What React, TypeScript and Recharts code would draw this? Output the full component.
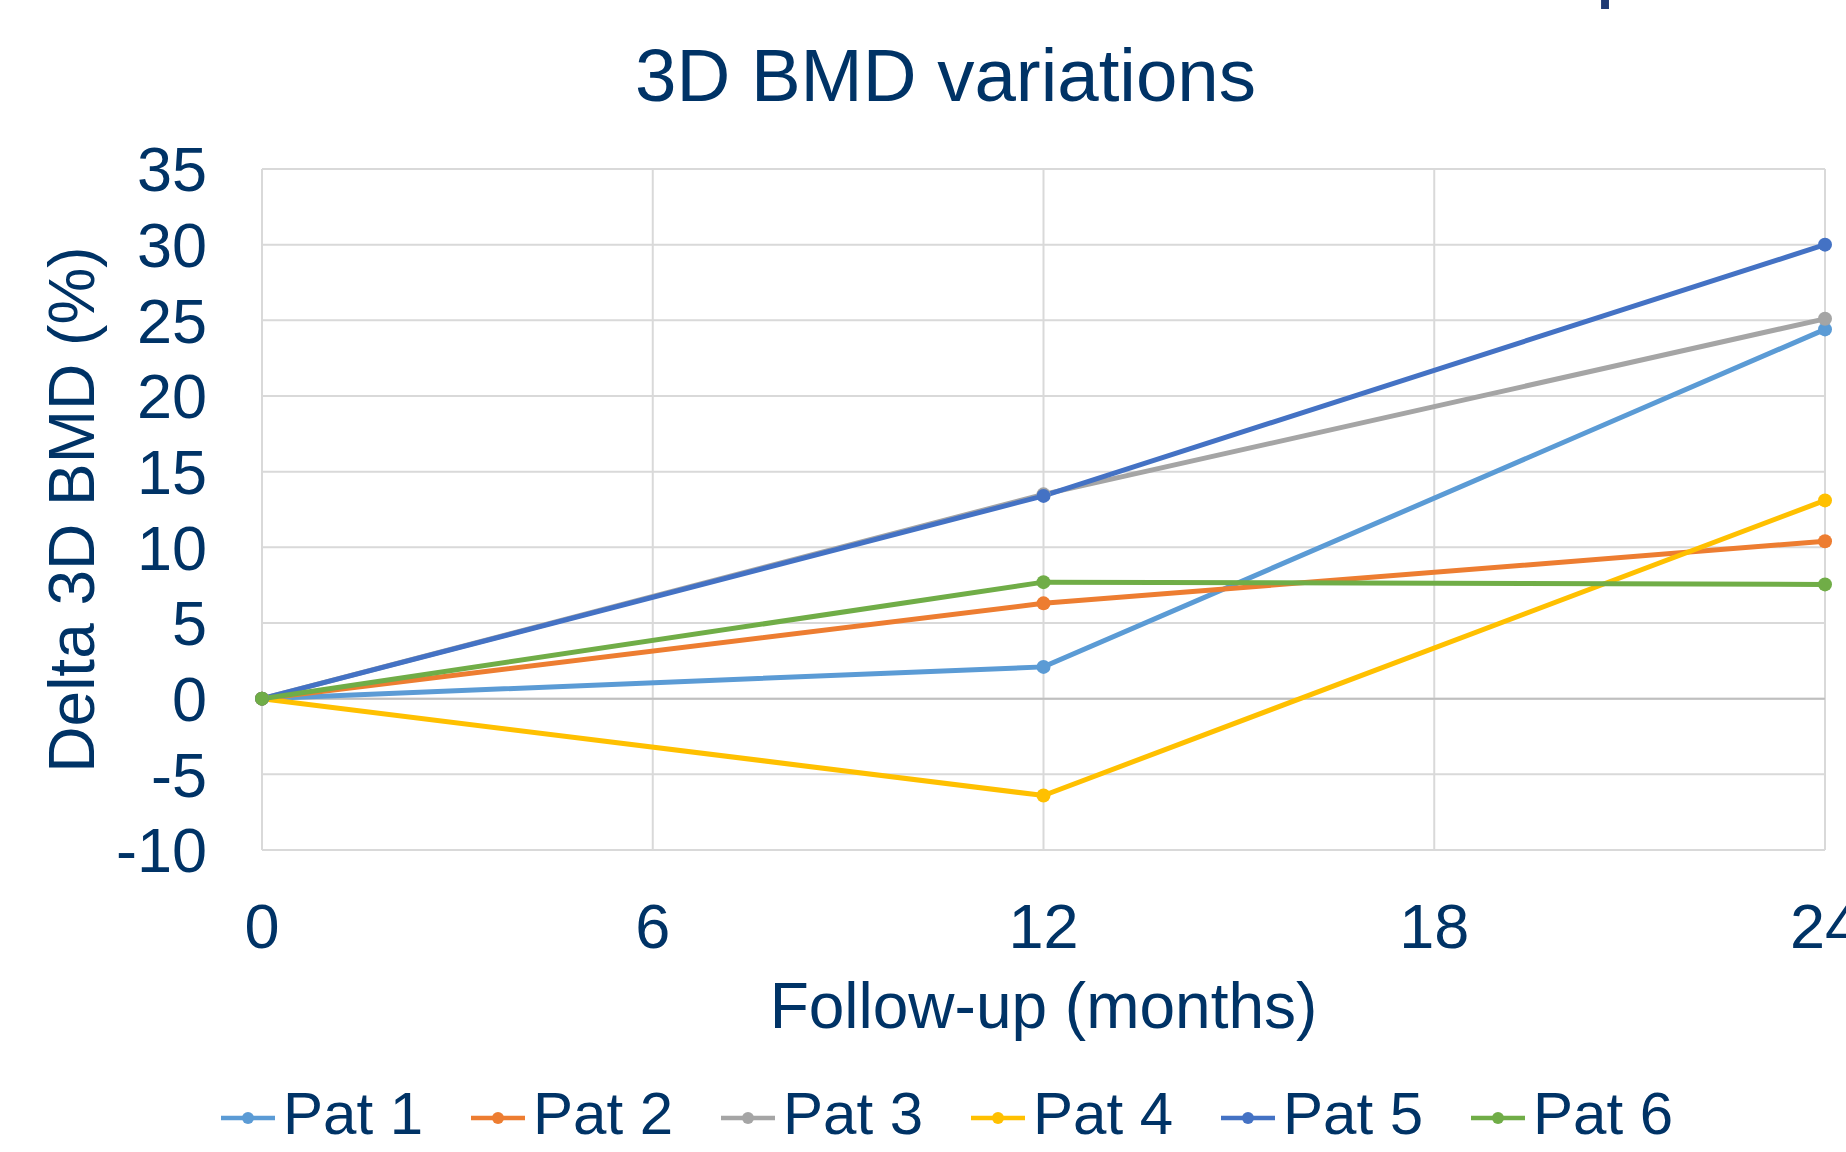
import React from 'react';
import { LineChart, Line, XAxis, YAxis, CartesianGrid, ReferenceLine, Legend } from 'recharts';

const months = [0, 12, 24];
const xTicks = [0, 6, 12, 18, 24];
const yTicks = [-10, -5, 0, 5, 10, 15, 20, 25, 30, 35];
const seriesNames = ['Pat 1', 'Pat 2', 'Pat 3', 'Pat 4', 'Pat 5', 'Pat 6'];
const seriesColors = ['#5B9BD5', '#ED7D31', '#A5A5A5', '#FFC000', '#4472C4', '#70AD47'];
const pat1 = [0, 2.1, 24.4];
const pat2 = [0, 6.3, 10.4];
const pat3 = [0, 13.5, 25.1];
const pat4 = [0, -6.4, 13.1];
const pat5 = [0, 13.4, 30.0];
const pat6 = [0, 7.7, 7.55];
const seriesValues = [pat1, pat2, pat3, pat4, pat5, pat6];

const data = months.map((m, i) => {
  const row: any = { month: m };
  seriesValues.forEach((vals, s) => {
    row['p' + s] = vals[i];
  });
  return row;
});

const FONT = '"Liberation Sans", Arial, Helvetica, sans-serif';
const TEXT = '#003366';

const LegendContent = (props: any) => {
  const payload = props.payload || [];
  return (
    <div style={{ position: 'relative', width: 1846, height: 60, fontFamily: FONT }}>
      {payload.map((p: any, i: number) => (
        <div key={i} style={{ position: 'absolute', left: 221 + i * 250, top: 0, width: 250, height: 60 }}>
          <svg width={54} height={14} style={{ position: 'absolute', left: 0, top: 27 }}>
            <line x1={0} y1={7} x2={54} y2={7} stroke={p.color} strokeWidth={4.5} />
            <circle cx={27} cy={7} r={6} fill={p.color} />
          </svg>
          <span style={{ position: 'absolute', left: 62, top: 0, fontSize: 60, lineHeight: '60px', color: TEXT, whiteSpace: 'nowrap' }}>
            {p.value}
          </span>
        </div>
      ))}
    </div>
  );
};

const YTitle = (props: any) => {
  const vb = props.viewBox || { x: 0, y: 169, width: 262, height: 681 };
  const cy = vb.y + vb.height / 2;
  return (
    <text x={94} y={cy} transform={`rotate(-90, 94, ${cy})`} textAnchor="middle" fill={TEXT} fontSize={64} fontFamily={FONT}>
      Delta 3D BMD (%)
    </text>
  );
};

const XTitle = (props: any) => {
  const vb = props.viewBox || { x: 262, y: 850, width: 1563, height: 235 };
  const cx = vb.x + vb.width / 2;
  return (
    <text x={cx} y={vb.y + 178} textAnchor="middle" fill={TEXT} fontSize={64} fontFamily={FONT}>
      Follow-up (months)
    </text>
  );
};

export default function App() {
  return (
    <div style={{ position: 'absolute', left: 0, top: 0, width: 1846, height: 1152, overflow: 'hidden', background: '#fff' }}>
      <svg width={1846} height={130} style={{ position: 'absolute', left: 0, top: 0, zIndex: 2 }}>
        <text x={1595} y={-10} fontSize={90} fontFamily={FONT} fill="#1F3A73">p</text>
        <text x={945.5} y={101} textAnchor="middle" fontSize={74.5} fontFamily={FONT} fill={TEXT}>
          3D BMD variations
        </text>
      </svg>
      <LineChart width={1846} height={1152} data={data} margin={{ top: 169, right: 21, bottom: 7, left: 0 }}>
        <CartesianGrid stroke="#D9D9D9" strokeWidth={2} />
        <XAxis
          dataKey="month"
          type="number"
          domain={[0, 24]}
          ticks={xTicks}
          axisLine={false}
          tickLine={false}
          tickSize={0}
          tickMargin={53}
          height={235}
          interval={0}
          tick={{ fill: TEXT, fontSize: 63, fontFamily: FONT }}
          label={<XTitle />}
        />
        <YAxis
          type="number"
          domain={[-10, 35]}
          ticks={yTicks}
          axisLine={false}
          tickLine={false}
          tickSize={0}
          tickMargin={55}
          width={262}
          interval={0}
          tick={{ fill: TEXT, fontSize: 63, fontFamily: FONT }}
          label={<YTitle />}
        />
        <ReferenceLine y={0} stroke="#BFBFBF" strokeWidth={2} />
        {seriesNames.map((name, s) => (
          <Line
            key={name}
            type="linear"
            dataKey={'p' + s}
            name={name}
            stroke={seriesColors[s]}
            strokeWidth={5}
            dot={{ r: 7, fill: seriesColors[s], stroke: seriesColors[s], strokeWidth: 0 }}
            activeDot={false}
            isAnimationActive={false}
          />
        ))}
        <Legend
          verticalAlign="bottom"
          align="left"
          height={60}
          content={<LegendContent />}
          wrapperStyle={{ left: 0, top: 1084, bottom: 'auto', width: 1846, height: 60 }}
        />
      </LineChart>
    </div>
  );
}
